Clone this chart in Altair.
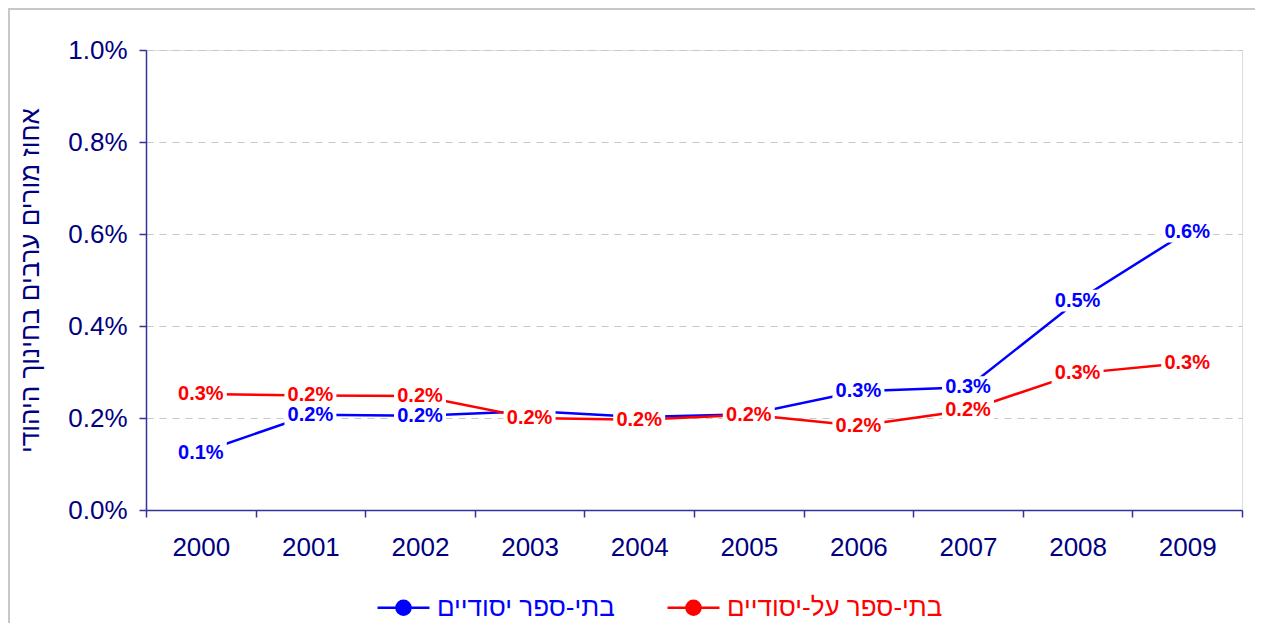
import altair as alt
import pandas as pd

years = [2000, 2001, 2002, 2003, 2004, 2005, 2006, 2007, 2008, 2009]
series_names = ["בתי-ספר יסודיים", "בתי-ספר על-יסודיים"]
elementary = [0.00125, 0.00207, 0.00205, 0.00215, 0.00202, 0.00208, 0.00258, 0.00267, 0.00455, 0.00605]
secondary = [0.00252, 0.00249, 0.00248, 0.00200, 0.00196, 0.00207, 0.00183, 0.00217, 0.00297, 0.00320]
y_ticks = [0.0, 0.002, 0.004, 0.006, 0.008, 0.010]
y_title = "אחוז מורים ערבים בחינוך היהודי"
colors = ["#0000ff", "#ff0000"]

rows = []
for name, vals in zip(series_names, [elementary, secondary]):
    for yr, v in zip(years, vals):
        rows.append({"year": yr, "series": name, "value": v})
df = pd.DataFrame(rows)

NAVY = "#000080"
AXIS = "#333399"
FONT = "Liberation Sans"

x_enc = alt.X(
    "year:O",
    bandPosition=0.5,
    scale=alt.Scale(type="band", paddingInner=0, paddingOuter=0),
    axis=alt.Axis(
        title=None, labelAngle=0, tickBand="extent", tickSize=7,
        domainColor=AXIS, tickColor=AXIS, labelColor=NAVY,
        labelFont=FONT, labelFontSize=26, labelPadding=17, grid=False,
        domainWidth=1.5, tickWidth=1.5,
    ),
)
y_enc = alt.Y(
    "value:Q",
    scale=alt.Scale(domain=[0, 0.01]),
    axis=alt.Axis(
        values=y_ticks, format=".1%", grid=True, gridDash=[7, 6],
        gridColor="#c8c8c8", gridWidth=1, tickSize=7,
        domainColor=AXIS, tickColor=AXIS, labelColor=NAVY,
        labelFont=FONT, labelFontSize=26, labelPadding=12,
        domainWidth=1.5, tickWidth=1.5,
        title=y_title, titleFont=FONT, titleFontSize=26,
        titleFontWeight="normal", titleColor=NAVY, titlePadding=24,
    ),
)

color_scale = alt.Scale(domain=series_names, range=colors)
label_color_expr = f"datum.label == '{series_names[0]}' ? '{colors[0]}' : '{colors[1]}'"

lines = alt.Chart(df).mark_line(strokeWidth=2.5).encode(
    x=x_enc,
    y=y_enc,
    color=alt.Color(
        "series:N", scale=color_scale,
        legend=alt.Legend(
            orient="none", legendX=230, legendY=530, direction="horizontal",
            title=None, labelFont=FONT, labelFontSize=26, labelLimit=0,
            labelColor=alt.ExprRef(label_color_expr),
            symbolType="M-1,0H1M-0.27,0A0.27,0.27 0 1,1 0.27,0A0.27,0.27 0 1,1 -0.27,0Z",
            symbolSize=2700, symbolStrokeWidth=2.5,
            symbolFillColor=alt.ExprRef(label_color_expr.replace("datum.label", "datum.value")),
            labelOffset=6, columnPadding=47,
        ),
    ),
)

df_lab = df.copy()
df_lab["dy"] = 0
df_lab.loc[(df_lab.series == series_names[0]) & (df_lab.year.isin([2001, 2002])), "dy"] = 11
df_lab.loc[(df_lab.series == series_names[0]) & (df_lab.year == 2007), "dy"] = -11
df_lab = df_lab[~((df_lab.series == series_names[0]) & (df_lab.year.isin([2003, 2004, 2005])))]

layers = [lines]
for name in series_names:
    sub = alt.Chart(df_lab).transform_filter(alt.datum.series == name)
    box = sub.mark_point(
        shape="M-1,-0.42H1V0.42H-1Z", filled=True, color="white",
        opacity=1, size=2700,
    ).encode(x=x_enc, y=y_enc, yOffset=alt.YOffset("dy:Q", scale=None))
    txt = sub.mark_text(
        font=FONT, fontSize=20, fontWeight="bold", baseline="middle", align="center",
    ).encode(
        x=x_enc, y=y_enc, yOffset=alt.YOffset("dy:Q", scale=None),
        text=alt.Text("value:Q", format=".1%"),
        color=alt.Color("series:N", scale=color_scale, legend=None),
    )
    layers += [box, txt]

frame_df = pd.DataFrame({"k": [0]})
frame_top = alt.Chart(frame_df).mark_rect(color="#c8c8c8", strokeWidth=0).encode(
    x=alt.value(-137), x2=alt.value(1109), y=alt.value(-42), y2=alt.value(-40)
)
frame_left = alt.Chart(frame_df).mark_rect(color="#c8c8c8", strokeWidth=0).encode(
    x=alt.value(-138), x2=alt.value(-136), y=alt.value(-42), y2=alt.value(573)
)

chart = alt.layer(frame_top, frame_left, *layers).properties(
    width=1096, height=460,
    autosize=alt.AutoSizeParams(type="none"),
    padding={"left": 138, "top": 42, "right": 13, "bottom": 113},
).configure_view(stroke=None).configure(background="white")

chart.save("out.html", embed_options={"renderer": "svg", "actions": False})
